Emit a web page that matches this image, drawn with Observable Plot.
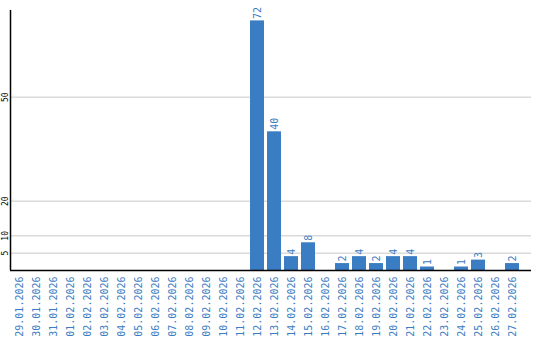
<!DOCTYPE html>
<html><head><meta charset="utf-8">
<script src="https://cdn.jsdelivr.net/npm/d3@7"></script>
<script src="https://cdn.jsdelivr.net/npm/@observablehq/plot@0.6"></script>
<style>body{margin:0;background:#fff}</style>
</head><body><div id="chart"></div>
<script>
const dates = ["29.01.2026","30.01.2026","31.01.2026","01.02.2026","02.02.2026","03.02.2026","04.02.2026","05.02.2026","06.02.2026","07.02.2026","08.02.2026","09.02.2026","10.02.2026","11.02.2026","12.02.2026","13.02.2026","14.02.2026","15.02.2026","16.02.2026","17.02.2026","18.02.2026","19.02.2026","20.02.2026","21.02.2026","22.02.2026","23.02.2026","24.02.2026","25.02.2026","26.02.2026","27.02.2026"];
const counts = [0,0,0,0,0,0,0,0,0,0,0,0,0,0,72,40,4,8,0,2,4,2,4,4,1,0,1,3,0,2];
const yTicks = [5,10,20,50];

const data = dates.map((d,i)=>({date:d, value:counts[i]}));
const blue = "#3b7dc3";
const font = "DejaVu Sans Mono";

const leftLine = (index, scales, values, dims) => {
  const g = d3.create("svg:line")
    .attr("x1", dims.marginLeft + 0.5).attr("x2", dims.marginLeft + 0.5)
    .attr("y1", dims.marginTop).attr("y2", dims.height - dims.marginBottom)
    .attr("stroke", "#000").attr("stroke-width", 1.5);
  return g.node();
};

const chart = Plot.plot({
  width: 540, height: 340,
  marginLeft: 10, marginRight: 9, marginTop: 10, marginBottom: 70,
  style: {fontFamily: font, background: "#fff"},
  x: {domain: dates, range: [10, 520], paddingInner: 0.18, paddingOuter: 0.09, label: null},
  y: {domain: [0, 75], label: null},
  marks: [
    Plot.ruleY(yTicks, {stroke: "#c8c8c8", strokeWidth: 1}),
    Plot.barY(data, {x: "date", y: "value", fill: blue}),
    Plot.text(data.filter(d => d.value > 0), {x: "date", y: "value", text: d => String(d.value),
      rotate: -90, textAnchor: "start", dy: -2, fill: blue, fontSize: 10, fontFamily: font}),
    Plot.ruleY([0], {stroke: "#000", strokeWidth: 1.5}),
    leftLine,
    Plot.axisX({tickRotate: -90, tickSize: 0, tickPadding: 6, fontSize: 10, color: blue, fill: blue, label: null}),
    Plot.axisY({ticks: yTicks, tickRotate: -90, tickSize: 0, tickPadding: 3, fontSize: 8, label: null, fill: "#000"})
  ]
});
document.getElementById("chart").appendChild(chart);
</script>
</body></html>
